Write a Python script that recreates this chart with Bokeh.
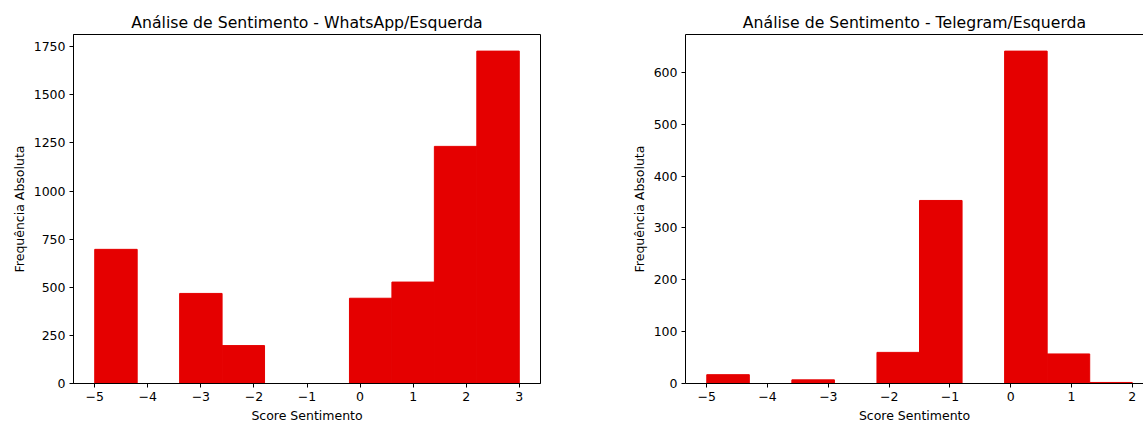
import numpy as np
from bokeh.plotting import figure
from bokeh.layouts import row
from bokeh.models import Range1d, FixedTicker, LinearAxis
from bokeh.embed import file_html
from bokeh.resources import INLINE

# ---- data ----
wa_title = "Análise de Sentimento - WhatsApp/Esquerda"
wa_min, wa_max, wa_bins = -5, 3, 10
wa_counts = [697, 0, 468, 197, 0, 0, 443, 527, 1232, 1727]
wa_yticks = [0, 250, 500, 750, 1000, 1250, 1500, 1750]
wa_xticks = [-5, -4, -3, -2, -1, 0, 1, 2, 3]

tg_title = "Análise de Sentimento - Telegram/Esquerda"
tg_min, tg_max, tg_bins = -5, 2, 10
tg_counts = [17, 0, 7, 0, 60, 353, 0, 641, 57, 2]
tg_yticks = [0, 100, 200, 300, 400, 500, 600]
tg_xticks = [-5, -4, -3, -2, -1, 0, 1, 2]

x_label = "Score Sentimento"
y_label = "Frequência Absoluta"
BAR = "#e50000"
FONT = "DejaVu Sans"


def fmt(t):
    return ("\u2212" + str(abs(t))) if t < 0 else str(t)


def style_axis(ax, ticks):
    ax.ticker = FixedTicker(ticks=ticks)
    ax.major_label_overrides = {t: fmt(t) for t in ticks}
    ax.minor_tick_line_color = None
    ax.major_tick_in = 0
    ax.major_tick_out = 4
    ax.major_tick_line_color = "black"
    ax.axis_line_color = "black"
    ax.major_label_text_font = FONT
    ax.major_label_text_font_size = "12.5px"
    ax.major_label_text_color = "black"
    ax.axis_label_text_font = FONT
    ax.axis_label_text_font_size = "12.5px"
    ax.axis_label_text_font_style = "normal"
    ax.axis_label_text_color = "black"
    ax.major_label_standoff = 4
    ax.axis_label_standoff = 4


def make(title, vmin, vmax, nb, counts, xticks, yticks, xr, fw, bl, br, outline=True):
    edges = np.linspace(vmin, vmax, nb + 1)
    ymax = max(counts) * 1.05
    p = figure(frame_width=fw, frame_height=349, output_backend="svg",
               toolbar_location=None, x_range=Range1d(*xr), y_range=Range1d(0, ymax),
               min_border_left=bl, min_border_right=br, min_border_top=34,
               min_border_bottom=38, title=title)
    p.quad(left=edges[:-1], right=edges[1:], bottom=0, top=counts,
           fill_color=BAR, line_color=BAR, line_width=1)
    p.grid.visible = False
    p.title.text_font = FONT
    p.title.text_font_size = "15.7px"
    p.title.text_font_style = "normal"
    p.title.text_color = "black"
    p.title.align = "center"
    p.title.standoff = 6
    p.xaxis.axis_label = x_label
    p.yaxis.axis_label = y_label
    style_axis(p.xaxis[0], xticks)
    style_axis(p.yaxis[0], yticks)
    if outline:
        p.outline_line_color = "black"
        p.outline_line_alpha = 1
        p.outline_line_width = 1
    else:
        p.outline_line_color = None
        top = LinearAxis(axis_label=None)
        top.ticker = FixedTicker(ticks=[])
        top.major_tick_in = 0
        top.major_tick_out = 0
        top.minor_tick_line_color = None
        top.major_label_text_font_size = "0px"
        top.major_label_standoff = 0
        top.axis_line_color = "black"
        p.add_layout(top, "above")
    p.background_fill_color = "white"
    p.border_fill_color = "white"
    return p


p1 = make(wa_title, wa_min, wa_max, wa_bins, wa_counts, wa_xticks, wa_yticks,
          (-5.4, 3.4), 467, 73, 20)
p2 = make(tg_title, tg_min, tg_max, tg_bins, tg_counts, tg_xticks, tg_yticks,
          (-5.35, 2.185), 458, 125, 0, outline=False)
p2.title.offset = 5

layout = row(p1, p2)
open("out.html", "w").write(file_html(layout, INLINE))
